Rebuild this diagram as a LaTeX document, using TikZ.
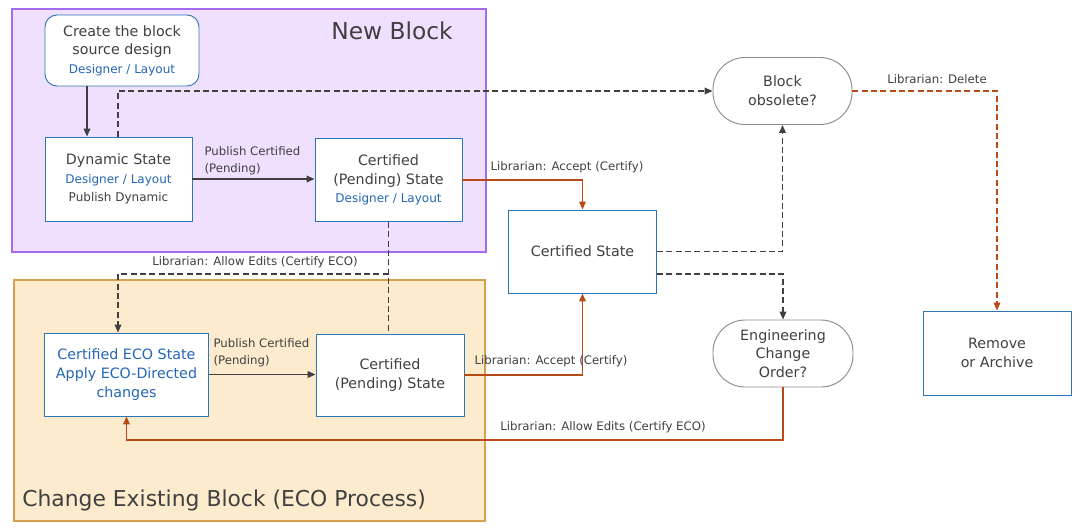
\documentclass[tikz,border=0pt]{standalone}
\usepackage{fontspec}
\setmainfont{DejaVu Sans}
\usepackage{xcolor}
\usetikzlibrary{arrows.meta, positioning, calc}
\definecolor{txtgray}{HTML}{404040}
\definecolor{roleblue}{HTML}{2466B5}
\definecolor{boxblue}{HTML}{2E75B6}
\definecolor{libred}{HTML}{B84A16}
\definecolor{newfill}{HTML}{EFE0FF}
\definecolor{newedge}{HTML}{A36BF0}
\definecolor{ecofill}{HTML}{FDEBCE}
\definecolor{ecoedge}{HTML}{D6A050}
\definecolor{askgray}{HTML}{8C8C8C}
\newcommand{\role}[1]{{\fontsize{9}{13}\selectfont\color{roleblue}#1}}
\newcommand{\subnote}[1]{{\fontsize{9}{13}\selectfont #1}}

\tikzset{
  sized/.style 2 args={minimum width=#1*0.75pt, minimum height=#2*0.75pt},
  statebox/.style={draw=boxblue, line width=0.7pt, fill=white, text=txtgray,
    align=center, inner sep=1pt, font=\fontsize{10.7}{14}\selectfont},
  askbox/.style={statebox, draw=askgray, rounded corners=24pt},
  lbl/.style={text=txtgray, inner sep=1pt, font=\fontsize{8.8}{12.75}\selectfont},
  regiontitle/.style={text=txtgray, inner sep=0pt},
  flow/.style={->, draw=txtgray, line width=1.1pt},
  dashline/.style={draw=txtgray, line width=1.1pt, dash pattern=on 4.5pt off 2.5pt},
  dashflow/.style={->, dashline},
  libflow/.style={->, draw=libred, line width=1.1pt},
  libdash/.style={libflow, dash pattern=on 4.5pt off 2.5pt}
}

\begin{document}
\begin{tikzpicture}[x=0.75pt, y=-0.75pt, >={Triangle[length=6pt, width=5pt]}]
  \fill[white] (0,0) rectangle (1080,529);
  \useasboundingbox (0,0) rectangle (1080,529);

  % regions
  \filldraw[fill=newfill, draw=newedge, line width=0.9pt] (12,9) rectangle (486,252);
  \filldraw[fill=ecofill, draw=ecoedge, line width=0.9pt] (14,280) rectangle (485,521);
  \node[regiontitle, font=\fontsize{17.5}{20}\selectfont] (newtitle) at (392,31) {New Block};
  \node[regiontitle, anchor=west, font=\fontsize{16.4}{20}\selectfont] (ecotitle) at (22,500) {Change Existing Block (ECO Process)};

  % states
  \node[statebox, sized={154}{71}, rounded corners=9pt] (create) at (122,50.5)
    {Create the block\\source design\\\role{Designer / Layout}};
  \node[statebox, sized={147}{84}] (dynamic) at (118.5,179)
    {Dynamic State\\\role{Designer / Layout}\\\subnote{Publish Dynamic}};
  \node[statebox, sized={147}{83}] (pendnew) at (388.5,180)
    {Certified\\(Pending) State\\\role{Designer / Layout}};
  \node[statebox, sized={148}{83}] (certified) at (582.5,251.5) {Certified State};
  \node[statebox, sized={164}{83}, text=roleblue] (ecostate) at (126.5,374.5)
    {Certified ECO State\\Apply ECO-Directed\\changes};
  \node[statebox, sized={148}{82}] (pendeco) at (390,375) {Certified\\(Pending) State};
  \node[askbox, sized={139}{67}] (obsolete) at (782.5,91) {Block\\obsolete?};
  \node[askbox, sized={140}{67}] (eco) at (783,353.5) {Engineering\\Change\\Order?};
  \node[statebox, sized={148}{84}] (remove) at (997,353) {Remove\\or Archive};

  % connectors
  \draw[flow] (87,0 |- create.south) -- (87,0 |- dynamic.north);
  \draw[dashflow] (118,0 |- dynamic.north) |- (obsolete.west);
  \draw[flow] (dynamic.east) -- (dynamic.east -| pendnew.west);
  \draw[libflow] (pendnew.east) -| (certified.north);
  \draw[dashline] (pendnew.south) -- (pendnew.south |- pendeco.north);
  \coordinate (split) at (pendnew.south |- 0,274);
  \draw[dashflow] (split) -| (118,0 |- ecostate.north);
  \draw[flow] (ecostate.east) -- (ecostate.east -| pendeco.west);
  \draw[libflow] (pendeco.east) -| (certified.south);
  \draw[dashflow] (certified.east) -| (obsolete.south);
  \draw[dashflow] (certified.east |- split) -| (eco.north);
  \draw[libflow] (eco.south) -- (eco.south |- 0,440) -| (ecostate.south);
  \draw[libdash] (obsolete.east) -| (remove.north);

  % connector labels
  \node[lbl, anchor=west, align=left] (pubnew) at (203,160.5) {Publish Certified\\(Pending)};
  \node[lbl] (acceptnew) at (567,167) {Librarian: Accept (Certify)};
  \node[lbl] (allowtop) at (255,262) {Librarian: Allow Edits (Certify ECO)};
  \node[lbl, anchor=west, align=left] (pubeco) at (212,353) {Publish Certified\\(Pending)};
  \node[lbl] (accepteco) at (551,361) {Librarian: Accept (Certify)};
  \node[lbl] (allowbot) at (603,427) {Librarian: Allow Edits (Certify ECO)};
  \node[lbl] (delete) at (937,79) {Librarian: Delete};
\end{tikzpicture}
\end{document}
